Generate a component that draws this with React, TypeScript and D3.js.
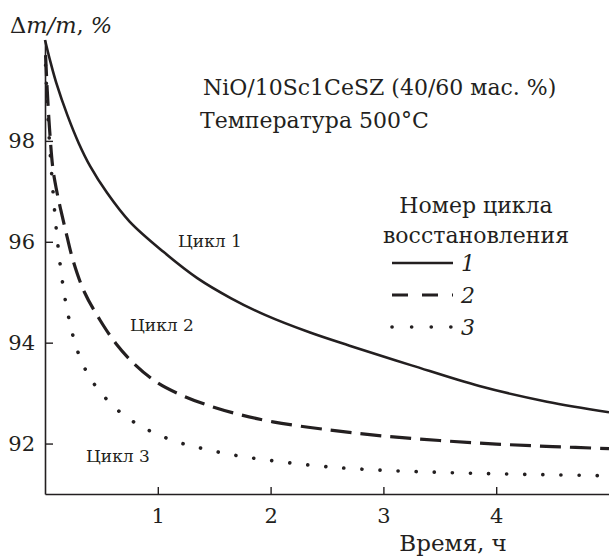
import React, { useEffect, useRef } from "react";
import * as d3 from "d3";

// time, h  /  mass change, %
const cycle1 = [
  [0, 100.0], [0.05, 99.55], [0.1, 99.15], [0.2, 98.5], [0.3, 97.95], [0.4, 97.5],
  [0.55, 96.97], [0.75, 96.4], [1.05, 95.8], [1.35, 95.28], [1.65, 94.88],
  [1.95, 94.55], [2.35, 94.2], [2.7, 93.94], [3.25, 93.55], [3.85, 93.14],
  [4.45, 92.83], [5.0, 92.62],
];
const cycle2 = [
  [0.005, 99.7], [0.02, 99.0], [0.04, 98.25], [0.07, 97.45], [0.1, 97.05],
  [0.135, 96.68], [0.18, 96.25], [0.25, 95.62], [0.35, 95.0], [0.49, 94.44],
  [0.63, 93.98], [0.8, 93.56], [1.0, 93.2], [1.22, 92.95], [1.43, 92.77],
  [1.7, 92.59], [2.02, 92.43], [2.52, 92.27], [3.0, 92.15], [3.5, 92.06],
  [4.0, 91.99], [4.5, 91.94], [5.0, 91.9],
];
const cycle3 = [
  [0.005, 99.5], [0.015, 99.0], [0.03, 98.35], [0.045, 97.8], [0.06, 97.32],
  [0.08, 96.75], [0.1, 96.25], [0.12, 95.82], [0.14, 95.45], [0.165, 95.05],
  [0.19, 94.72], [0.23, 94.3], [0.27, 93.96], [0.33, 93.6], [0.4, 93.3],
  [0.48, 93.05], [0.58, 92.8], [0.7, 92.56], [0.83, 92.37], [0.96, 92.22],
  [1.1, 92.09], [1.25, 91.98], [1.4, 91.9], [1.58, 91.81], [1.76, 91.74],
  [2.05, 91.65], [2.5, 91.54], [3.0, 91.47], [3.5, 91.43], [4.0, 91.4],
  [4.5, 91.38], [5.0, 91.36],
];
const xTicks = [1, 2, 3, 4];
const yTicks = [92, 94, 96, 98];
const legendLabels = ["1", "2", "3"];
const curveLabels = ["Цикл 1", "Цикл 2", "Цикл 3"];

const W = 609;
const H = 559;
const FONT = "DejaVu Serif";
const INK = "#231f20";

const App = () => {
  const svgRef = useRef(null);

  useEffect(() => {
    const svg = d3.select(svgRef.current);
    svg.selectAll("*").remove();

    const x = d3.scaleLinear().domain([0, 5]).range([45, 609]);
    const y = d3.scaleLinear().domain([91, 100]).range([494, 40]);

    const styles = [
      { data: cycle1, dash: null, width: 2.6, cap: "butt" },
      { data: cycle2, dash: "21 9", width: 3.2, cap: "butt" },
      { data: cycle3, dash: "0.1 18", width: 3.6, cap: "round" },
    ];

    const line = d3
      .line()
      .x((d) => x(d[0]))
      .y((d) => y(d[1]))
      .curve(d3.curveCatmullRom.alpha(0.5));

    styles.forEach((s) => {
      svg
        .append("path")
        .datum(s.data)
        .attr("fill", "none")
        .attr("stroke", INK)
        .attr("stroke-width", s.width)
        .attr("stroke-linecap", s.cap)
        .attr("stroke-dasharray", s.dash)
        .attr("d", line);
    });

    // axes, ticks point inward
    const gx = svg
      .append("g")
      .attr("transform", `translate(0,${y(91)})`)
      .call(
        d3.axisBottom(x).tickValues(xTicks).tickFormat(d3.format("d"))
          .tickSizeInner(-7).tickSizeOuter(0).tickPadding(20)
      );
    const gy = svg
      .append("g")
      .attr("transform", `translate(${x(0)},0)`)
      .call(
        d3.axisLeft(y).tickValues(yTicks).tickFormat(d3.format("d"))
          .tickSizeInner(-8).tickSizeOuter(0).tickPadding(10)
      );

    [gx, gy].forEach((g) => {
      g.attr("font-family", FONT).attr("font-size", 21);
      g.select(".domain").attr("stroke", INK).attr("stroke-width", 1.6);
      g.selectAll(".tick line").attr("stroke", INK).attr("stroke-width", 1.4);
      g.selectAll("text").attr("fill", INK);
    });
    gx.selectAll("text").attr("dy", "0.45em");
    gy.selectAll("text").attr("dy", "0.32em");

    const addText = (t, px, py, size, anchor = "start", italic = false) =>
      svg
        .append("text")
        .attr("x", px)
        .attr("y", py)
        .attr("text-anchor", anchor)
        .attr("fill", INK)
        .attr("font-family", FONT)
        .attr("font-size", size)
        .attr("font-style", italic ? "italic" : "normal")
        .text(t);

    // axis titles
    const yt = addText("", 10, 33, 22.5);
    yt.append("tspan").text("Δ");
    yt.append("tspan").attr("font-style", "italic").text("m/m");
    yt.append("tspan").text(", ");
    yt.append("tspan").attr("font-style", "italic").text("%");

    addText("Время, ч", 453, 551, 23, "middle");

    // annotations
    addText("NiO/10Sc1CeSZ (40/60 мас. %)", 203, 95, 22);
    addText("Температура 500°C", 200, 128, 22);
    addText("Номер цикла", 476, 213, 22, "middle");
    addText("восстановления", 476, 243, 22, "middle");

    const labelPos = [
      [178, 247],
      [130, 331],
      [86, 462],
    ];
    curveLabels.forEach((t, i) => addText(t, labelPos[i][0], labelPos[i][1], 17));

    // legend
    const legendY = [263, 295, 327];
    const legendDash = [null, "16 14", "0.1 19.5"];
    styles.forEach((s, i) => {
      svg
        .append("line")
        .attr("x1", 392)
        .attr("x2", 453)
        .attr("y1", legendY[i])
        .attr("y2", legendY[i])
        .attr("stroke", INK)
        .attr("stroke-width", s.width)
        .attr("stroke-linecap", s.cap)
        .attr("stroke-dasharray", legendDash[i]);
      addText(legendLabels[i], 461, legendY[i] + 8, 22, "start", true);
    });
  }, []);

  return (
    <svg
      ref={svgRef}
      width={W}
      height={H}
      style={{ position: "absolute", left: 0, top: 0, background: "#fff" }}
    ></svg>
  );
};

export default App;
